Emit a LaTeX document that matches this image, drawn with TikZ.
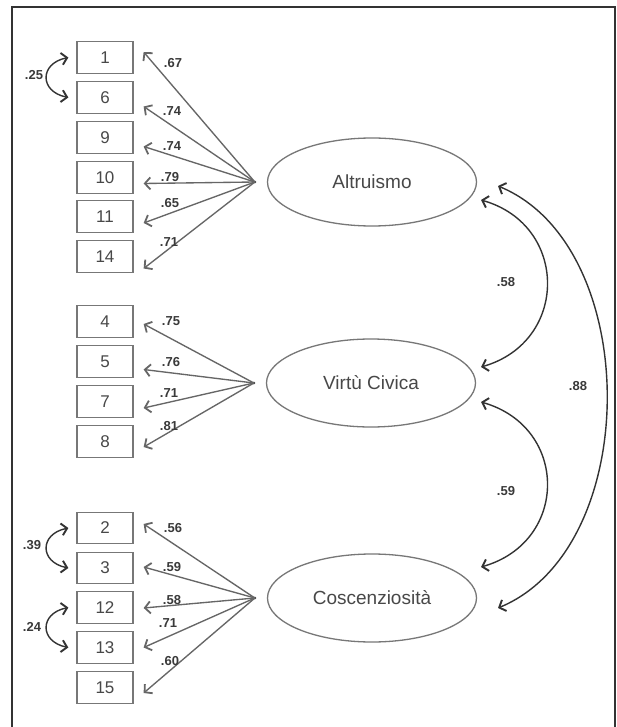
\documentclass[tikz,border=0pt]{standalone}
\usepackage{fontspec}
\setmainfont{Liberation Sans}
\usetikzlibrary{shapes.geometric,arrows.meta}
\definecolor{lngray}{HTML}{666666}
\definecolor{boxgray}{HTML}{777777}
\definecolor{txtgray}{HTML}{484848}
\definecolor{lblgray}{HTML}{3A3A3A}
\definecolor{covgray}{HTML}{333333}
\tikzset{
  itembox/.style={draw=boxgray, line width=1.3pt, minimum width=56pt, minimum height=31.5pt, inner sep=0pt, text=txtgray, font=\fontsize{17}{19}\selectfont},
  factor/.style={ellipse, draw=boxgray, line width=1.3pt, minimum width=209pt, minimum height=88pt, inner sep=0pt, text=txtgray, font=\fontsize{19}{22}\selectfont},
  load/.style={draw=lngray, line width=1.35pt, -{Straight Barb[length=5.5pt,width=12pt,line width=1.8pt]}},
  cov/.style={draw=covgray, line width=1.4pt, {Straight Barb[length=5.5pt,width=12pt,line width=1.9pt]}-{Straight Barb[length=5.5pt,width=12pt,line width=1.9pt]}},
  lbl/.style={text=lblgray, font=\bfseries\fontsize{13}{15}\selectfont, inner sep=0pt},
}
\begin{document}
\begin{tikzpicture}[x=1pt,y=-1pt]
\useasboundingbox (0,0) rectangle (617,727);
\fill[white] (0,0) rectangle (617,727);
\draw[line width=1.8pt, draw=black!80] (12,727) -- (12,7) -- (615,7) -- (615,727);

% Factors
\node[factor] (A) at (372,182) {Altruismo};
\node[factor] (V) at (371,383) {Virtù Civica};
\node[factor] (C) at (372,598) {Coscenziosità};
\coordinate (sA) at ([xshift=-12pt]A.west);
\coordinate (sV) at ([xshift=-12pt]V.west);
\coordinate (sC) at ([xshift=-12pt]C.west);
\fill[black!75] (sA) circle (1.5pt);
\fill[black!75] (sV) circle (1.5pt);
\fill[black!75] (sC) circle (1.5pt);

% Items Altruismo
\node[itembox] (b1)  at (105,57.5) {1};
\node[itembox] (b6)  at (105,97.5) {6};
\node[itembox] (b9)  at (105,137.5) {9};
\node[itembox] (b10) at (105,177.5) {10};
\node[itembox] (b11) at (105,216.5) {11};
\node[itembox] (b14) at (105,256.5) {14};
% Items Virtu
\node[itembox] (b4) at (105,321.5) {4};
\node[itembox] (b5) at (105,361.5) {5};
\node[itembox] (b7) at (105,401.5) {7};
\node[itembox] (b8) at (105,441.5) {8};
% Items Coscenziosita
\node[itembox] (b2)  at (105,528) {2};
\node[itembox] (b3)  at (105,568) {3};
\node[itembox] (b12) at (105,607.5) {12};
\node[itembox] (b13) at (105,647.5) {13};
\node[itembox] (b15) at (105,687.5) {15};

% Loadings
\draw[load] (sA) -- ([shift={(10,-5.5)}]b1.east);
\draw[load] (sA) -- ([shift={(10,9)}]b6.east);
\draw[load] (sA) -- ([shift={(10,9)}]b9.east);
\draw[load] (sA) -- ([shift={(10,6)}]b10.east);
\draw[load] (sA) -- ([shift={(10,6.5)}]b11.east);
\draw[load] (sA) -- ([shift={(10,12)}]b14.east);

\draw[load] (sV) -- ([shift={(10,2.5)}]b4.east);
\draw[load] (sV) -- ([shift={(10,8)}]b5.east);
\draw[load] (sV) -- ([shift={(10,6.5)}]b7.east);
\draw[load] (sV) -- ([shift={(10,5.5)}]b8.east);

\draw[load] (sC) -- ([shift={(10,-4)}]b2.east);
\draw[load] (sC) -- ([shift={(10,-1)}]b3.east);
\draw[load] (sC) -- ([shift={(10,0.5)}]b12.east);
\draw[load] (sC) -- ([shift={(10,0)}]b13.east);
\draw[load] (sC) -- ([shift={(10,5.5)}]b15.east);

% Loading labels
\node[lbl] (l1)  at (173,63)  {.67};
\node[lbl] (l6)  at (172,111) {.74};
\node[lbl] (l9)  at (172,146) {.74};
\node[lbl] (l10) at (170,177) {.79};
\node[lbl] (l11) at (170,203) {.65};
\node[lbl] (l14) at (169,242) {.71};

\node[lbl] (l4) at (171,321) {.75};
\node[lbl] (l5) at (171,362) {.76};
\node[lbl] (l7) at (169,393) {.71};
\node[lbl] (l8) at (169,426) {.81};

\node[lbl] (l2)  at (173,528) {.56};
\node[lbl] (l3)  at (172,567) {.59};
\node[lbl] (l12) at (172,600) {.58};
\node[lbl] (l13) at (168,623) {.71};
\node[lbl] (l15) at (170,661) {.60};

% Error covariances (left)
\draw[cov] ([xshift=-8pt]b1.west) .. controls +(-29,6) and +(-29,-6) .. ([xshift=-8pt]b6.west);
\draw[cov] ([xshift=-8pt]b2.west) .. controls +(-29,6) and +(-29,-6) .. ([xshift=-8pt]b3.west);
\draw[cov] ([xshift=-8pt]b12.west) .. controls +(-29,6) and +(-29,-6) .. ([xshift=-8pt]b13.west);
\node[lbl] (c25) at (34,75) {.25};
\node[lbl] (c39) at (32,545) {.39};
\node[lbl] (c24) at (32,627) {.24};

% Factor correlations (right)
\coordinate (aL) at (481,200);
\coordinate (vU) at (481,367);
\coordinate (vL) at (481,402);
\coordinate (cU) at (481,567);
\coordinate (aH) at (498,186);
\coordinate (cH) at (498,608);
\draw[cov] (aL) .. controls +(88,25) and +(88,-25) .. (vU);
\draw[cov] (vL) .. controls +(88,25) and +(88,-25) .. (cU);
\draw[cov] (aH) .. controls +(145,60) and +(145,-60) .. (cH);
\node[lbl] (r58) at (506,282) {.58};
\node[lbl] (r59) at (506,491) {.59};
\node[lbl] (r88) at (578,386) {.88};
\end{tikzpicture}
\end{document}
